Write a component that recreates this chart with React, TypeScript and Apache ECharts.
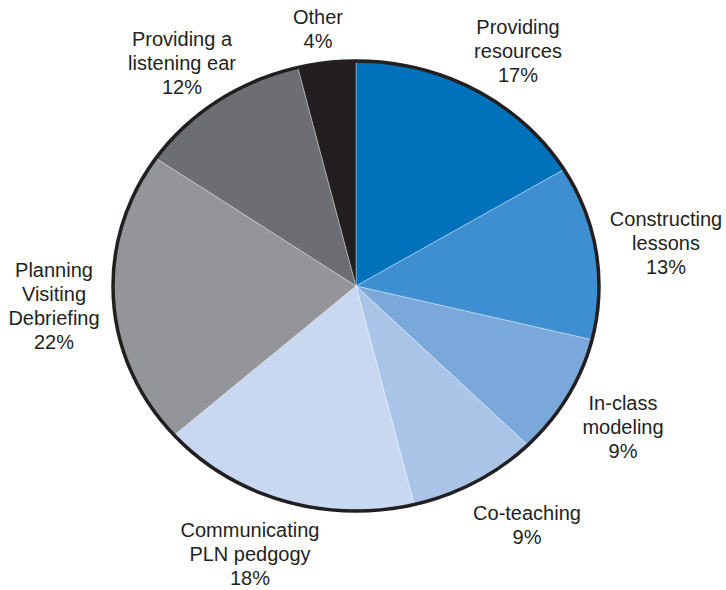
import React, { useEffect, useRef } from "react";
import * as echarts from "echarts";

const categories = [
  "Providing resources",
  "Constructing lessons",
  "In-class modeling",
  "Co-teaching",
  "Communicating PLN pedgogy",
  "Planning Visiting Debriefing",
  "Providing a listening ear",
  "Other",
];
const labelTexts = [
  "Providing\nresources\n17%",
  "Constructing\nlessons\n13%",
  "In-class\nmodeling\n9%",
  "Co-teaching\n9%",
  "Communicating\nPLN pedgogy\n18%",
  "Planning\nVisiting\nDebriefing\n22%",
  "Providing a\nlistening ear\n12%",
  "Other\n4%",
];
const values = [17, 13, 9, 9, 18, 22, 12, 4];
const colors = [
  "#0072BC",
  "#3D8FD1",
  "#7BA8DA",
  "#AAC4E8",
  "#C7D8F0",
  "#939598",
  "#6D6E71",
  "#231F20",
];

// layout (not data)
const CX = 356;
const CY = 286;
const RX = 243;
const RY = 225;
const labelPos: [number, number][] = [
  [518, 51],
  [666, 243],
  [623, 427],
  [527, 525],
  [250, 554],
  [54, 306],
  [182, 63],
  [318, 29],
];

export default function App() {
  const ref = useRef<HTMLDivElement>(null);
  useEffect(() => {
    if (!ref.current) return;
    const chart = echarts.init(ref.current, undefined, { renderer: "svg" });
    const total = values.reduce((a, b) => a + b, 0);
    const cum: number[] = [];
    values.reduce((acc, v, i) => {
      cum[i] = acc;
      return acc + v;
    }, 0);
    chart.setOption({
      animation: false,
      backgroundColor: "#ffffff",
      series: [
        {
          type: "custom",
          coordinateSystem: "none",
          silent: true,
          data: values.map((v, i) => ({ value: v, name: categories[i] })),
          renderItem: (params: any, api: any) => {
            const i = params.dataIndex;
            const v = api.value(0);
            const start = -Math.PI / 2 + (cum[i] / total) * Math.PI * 2;
            const end = start + (v / total) * Math.PI * 2;
            const children: any[] = [
              {
                type: "group",
                x: CX,
                y: CY,
                scaleY: RY / RX,
                children: [
                  {
                    type: "sector",
                    shape: { cx: 0, cy: 0, r0: 0, r: RX, startAngle: start, endAngle: end, clockwise: true },
                    style: { fill: colors[i], stroke: "rgba(255,255,255,0.45)", lineWidth: 0.8 },
                  },
                ],
              },
              {
                type: "text",
                x: labelPos[i][0],
                y: labelPos[i][1],
                style: {
                  text: labelTexts[i],
                  fill: "#231F20",
                  fontFamily: "Liberation Sans, Arial, sans-serif",
                  fontSize: 20,
                  lineHeight: 24,
                  align: "center",
                  verticalAlign: "middle",
                },
              },
            ];
            if (i === values.length - 1) {
              children.push({
                type: "ellipse",
                z2: 10,
                shape: { cx: CX, cy: CY, rx: RX, ry: RY },
                style: { fill: "none", stroke: "#231F20", lineWidth: 3.5 },
              });
            }
            return { type: "group", children };
          },
        },
      ],
    });
    return () => chart.dispose();
  }, []);
  return (
    <div
      ref={ref}
      style={{ position: "fixed", left: 0, top: 0, width: 726, height: 590 }}
    />
  );
}
